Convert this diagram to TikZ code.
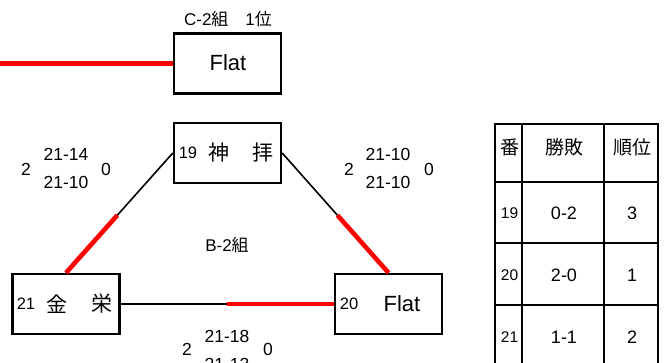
\documentclass[tikz,border=0pt]{standalone}
\usepackage{fontspec}
\setmainfont{Liberation Sans}
\newfontfamily\cjk{Noto Sans CJK JP}
\usetikzlibrary{calc}
\tikzset{
  box/.style={draw=black,line width=2.4pt,minimum width=107pt,minimum height=60pt,inner sep=0pt},
  conn/.style={draw=black,line width=1.6pt},
  win/.style={draw=red,line width=4.6pt},
  grid/.style={draw=black,line width=2.2pt},
  txt/.style={inner sep=0pt,font=\fontsize{16.5}{18}\selectfont},
  score/.style={inner sep=0pt,font=\fontsize{17.5}{20}\selectfont},
  lab/.style={inner sep=0pt,font=\fontsize{17}{20}\selectfont},
  big/.style={inner sep=0pt,font=\fontsize{22}{24}\selectfont},
  bigcjk/.style={inner sep=0pt,font=\fontsize{21}{24}\selectfont\cjk},
  hd/.style={inner sep=0pt,font=\fontsize{19}{22}\selectfont\cjk},
  cell/.style={inner sep=0pt,font=\fontsize{18}{20}\selectfont},
  num/.style={inner sep=0pt,font=\fontsize{15.5}{18}\selectfont},
}
\begin{document}
\begin{tikzpicture}[x=1pt,y=-1pt]
\useasboundingbox (0,0) rectangle (667,363);
% boxes
\node[box] (top) at (227.5,63.5) {};
\node[box] (b19) at (227.5,153) {};
\node[box] (b21) at (66,304) {};
\node[box] (b20) at (388.5,304) {};
% box texts
\node[big] (topname) at (228,63) {Flat};
\node[txt] (t19) at (188,153) {19};
\node[bigcjk] (n19a) at (219,153) {神};
\node[bigcjk] (n19b) at (263,153) {拝};
\node[txt] (t21) at (26,304) {21};
\node[bigcjk] (n21a) at (57,304) {金};
\node[bigcjk] (n21b) at (102,304) {栄};
\node[txt] (t20) at (349,304) {20};
\node[big] (n20) at (402,304) {Flat};
% labels
\node[lab] (toplab) at (228,19) {C-2{\cjk 組　}1{\cjk 位}};
\node[lab] (grp) at (227,245) {B-2{\cjk 組}};
% connectors
\coordinate (lft) at (0,63.5);
\draw[win] (lft) -- (top.west);
\draw[conn] (b19.west) -- (b21.north);
\draw[win] ($(b19.west)!0.52!(b21.north)$) coordinate (m1) -- (b21.north);
\draw[conn] (b19.east) -- (b20.north);
\draw[win] ($(b19.east)!0.52!(b20.north)$) coordinate (m2) -- (b20.north);
\draw[conn] (b21.east) -- (b20.west);
\draw[win] ($(b21.east)!0.5!(b20.west)$) coordinate (m3) -- (b20.west);
% scores
\node[score] (sl1) at (26,169) {2};
\node[score] (sl2) at (66,154) {21-14};
\node[score] (sl3) at (66,182) {21-10};
\node[score] (sl4) at (106,169) {0};
\node[score] (sr1) at (349,169) {2};
\node[score] (sr2) at (388,154) {21-10};
\node[score] (sr3) at (388,182) {21-10};
\node[score] (sr4) at (429,169) {0};
\node[score] (sb1) at (187,349) {2};
\node[score] (sb2) at (227,336) {21-18};
\node[score] (sb3) at (227,364) {21-13};
\node[score] (sb4) at (268,349) {0};
% table
\draw[grid] (495,370) -- (495,124) -- (658,124) -- (658,370);
\draw[grid] (522,124) -- (522,370);
\draw[grid] (604,124) -- (604,370);
\draw[grid] (495,182) -- (658,182);
\draw[grid] (495,243) -- (658,243);
\draw[grid] (495,305) -- (658,305);
\node[hd] (h1) at (509.5,147) {番};
\node[hd] (h2) at (564,147) {勝敗};
\node[hd] (h3) at (632,147) {順位};
\node[num] (r1a) at (509.5,213) {19};
\node[cell] (r1b) at (564,213) {0-2};
\node[cell] (r1c) at (632,213) {3};
\node[num] (r2a) at (509.5,275) {20};
\node[cell] (r2b) at (564,275) {2-0};
\node[cell] (r2c) at (632,275) {1};
\node[num] (r3a) at (509.5,337) {21};
\node[cell] (r3b) at (564,337) {1-1};
\node[cell] (r3c) at (632,337) {2};
\end{tikzpicture}
\end{document}
